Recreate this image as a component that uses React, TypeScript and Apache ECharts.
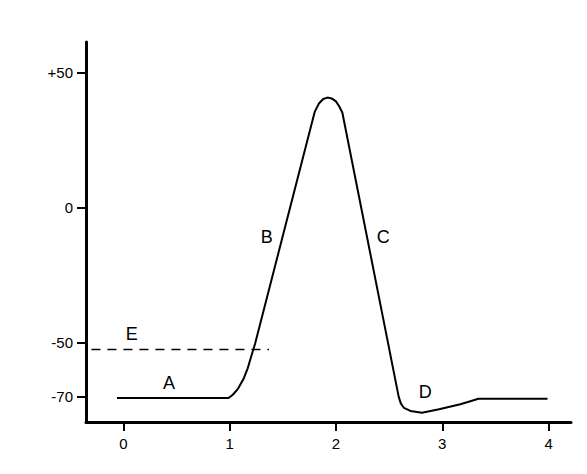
import { useEffect, useRef } from "react";
import * as echarts from "echarts";

// Membrane potential trace (time units on x, mV on y)
const timePoints = [-0.06, 0.99, 1.03, 1.08, 1.13, 1.17, 1.2, 1.24, 1.8, 1.84, 1.88, 1.92, 1.96, 2.0, 2.03, 2.06, 2.59, 2.61, 2.64, 2.7, 2.81, 2.97, 3.17, 3.28, 3.34, 3.99];
const potentialMv = [-70.5, -70.5, -69.3, -67, -63.5, -59.5, -55.5, -50.3, 35.5, 38.6, 40.3, 40.8, 40.5, 39.4, 37.6, 35.3, -70, -72.5, -74.2, -75.3, -76, -74.7, -72.8, -71.5, -70.8, -70.8];

// Threshold (E) dashed line
const thresholdTime = [-0.3, 1.37];
const thresholdMv = -52.5;

// Axis ticks
const yTickValues = [50, 0, -50, -70];
const yTickLabels = ["+50", "0", "-50", "-70"];
const xTickValues = [0, 1, 2, 3, 4];

// Phase letters
const phaseNames = ["A", "B", "C", "D", "E"];
const phaseTime = [0.43, 1.35, 2.445, 2.84, 0.08];
const phaseMv = [-65.1, -11, -11, -68.2, -46.7];

const FONT = "'Liberation Sans', Arial, sans-serif";

export default function App() {
  const ref = useRef<HTMLDivElement>(null);
  useEffect(() => {
    if (!ref.current) return;
    const chart = echarts.init(ref.current, undefined, { renderer: "svg" });
    const trace = timePoints.map((t, i) => [t, potentialMv[i]]);
    const threshold = thresholdTime.map((t) => [t, thresholdMv]);
    const letters = phaseNames.map((n, i) => ({ name: n, value: [phaseTime[i], phaseMv[i]] }));
    chart.setOption({
      animation: false,
      backgroundColor: "#ffffff",
      textStyle: { fontFamily: FONT, color: "#000" },
      grid: { left: 86, right: 16, top: 42, bottom: 52 },
      xAxis: {
        type: "value",
        min: -0.351,
        max: 4.211,
        axisLine: { show: true, onZero: false, lineStyle: { color: "#000", width: 3 } },
        axisTick: { show: true, customValues: xTickValues, length: 9, lineStyle: { color: "#000", width: 2 } },
        axisLabel: {
          show: true,
          customValues: xTickValues,
          margin: 14,
          color: "#000",
          fontSize: 15,
          fontFamily: FONT,
          formatter: (v: number) => String(Math.round(v)),
        },
        splitLine: { show: false },
      },
      yAxis: {
        type: "value",
        min: -79.4,
        max: 61.4,
        axisLine: { show: true, onZero: false, lineStyle: { color: "#000", width: 3 } },
        axisTick: { show: true, customValues: yTickValues, length: 9, lineStyle: { color: "#000", width: 2 } },
        axisLabel: {
          show: true,
          customValues: yTickValues,
          margin: 13,
          color: "#000",
          fontSize: 15,
          fontFamily: FONT,
          formatter: (v: number) => {
            const idx = yTickValues.findIndex((y) => Math.abs(y - v) < 1e-6);
            return idx >= 0 ? yTickLabels[idx] : "";
          },
        },
        splitLine: { show: false },
      },
      series: [
        {
          type: "line",
          data: trace,
          symbol: "none",
          lineStyle: { color: "#000", width: 2 },
          z: 3,
        },
        {
          type: "line",
          data: threshold,
          symbol: "none",
          lineStyle: { color: "#000", width: 1.5, type: [9, 7] },
          z: 2,
        },
        {
          type: "scatter",
          data: letters,
          symbolSize: 0,
          itemStyle: { opacity: 1, color: "#000" },
          label: {
            show: true,
            position: "inside",
            formatter: (p: any) => p.name,
            color: "#000",
            opacity: 1,
            fontSize: 18,
            fontFamily: FONT,
          },
          z: 4,
        },
      ],
    });
    return () => chart.dispose();
  }, []);
  return <div ref={ref} style={{ position: "absolute", left: 0, top: 0, width: 587, height: 474 }} />;
}
